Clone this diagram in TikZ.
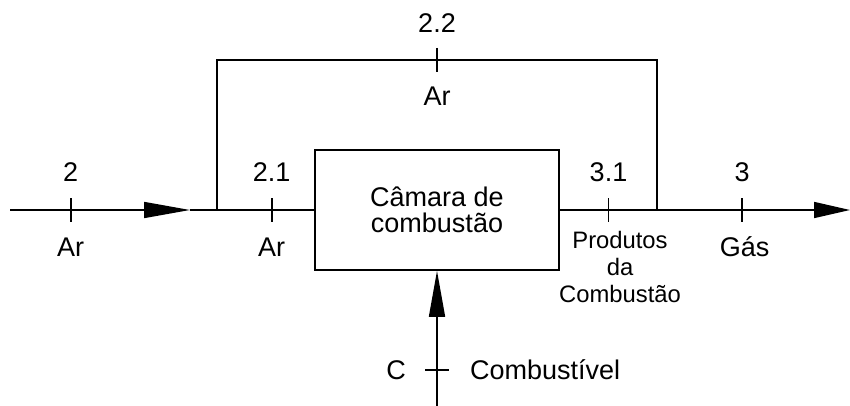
\documentclass[tikz,border=0pt]{standalone}
\usepackage{fontspec}
\setmainfont{Liberation Sans}
\usetikzlibrary{arrows.meta}
\begin{document}
\begin{tikzpicture}[x=10pt, y=-10pt, line width=1.6pt,
  every node/.style={font=\fontsize{27}{26.5}\selectfont, inner sep=0pt},
  small/.style={font=\fontsize{23.8}{27}\selectfont},
  flow/.style={-{Triangle[length=#1,width=16pt]}}, flow/.default=46pt]
  \useasboundingbox (0,0) rectangle (85,40.6);
  \coordinate (In) at (1.0,21.0); \coordinate (A) at (19.0,21.0);
  \coordinate (J) at (21.7,21.0); \coordinate (K) at (65.7,21.0);
  \coordinate (JT) at (21.7,6.0); \coordinate (KT) at (65.7,6.0);
  \coordinate (Out) at (85.0,21.0); \coordinate (F) at (43.7,40.6);
  \coordinate (P2) at (7.07,21.0); \coordinate (P21) at (27.17,21.0);
  \coordinate (P22) at (43.7,6.0); \coordinate (P31) at (60.85,21.0);
  \coordinate (P3) at (74.17,21.0); \coordinate (PC) at (43.7,37.0);
  \node[draw, minimum width=244pt, minimum height=120pt, align=center] (Cam) at (43.7,21.0) {Câmara de\\combustão};
  \draw[flow] (In)--(A);
  \draw (A)--(Cam.west) (J)--(JT)--(KT)--(K);
  \draw[flow=36pt] (Cam.east)--(Out);
  \draw[flow] (F)--(Cam.south);
  \foreach \p in {P2,P21,P22,P31,P3}
    \draw ([yshift=12pt]\p)--([yshift=-12pt]\p);
  \draw ([xshift=-12pt]PC)--([xshift=12pt]PC);
  \node[anchor=base] (l2) at (7.07,18.2) {2};
  \node[anchor=base] (a2) at (7.07,25.6) {Ar};
  \node[anchor=base] (l21) at (27.17,18.2) {2.1};
  \node[anchor=base] (a21) at (27.17,25.6) {Ar};
  \node[anchor=base] (l22) at (43.7,3.3) {2.2};
  \node[anchor=base] (a22) at (43.7,10.55) {Ar};
  \node[anchor=base] (l31) at (60.85,18.2) {3.1};
  \node[small, anchor=north, align=center] (a31) at (62.0,23.0) {Produtos\\da\\Combustão};
  \node[anchor=base] (l3) at (74.2,18.2) {3};
  \node[anchor=base] (a3) at (74.45,25.6) {Gás};
  \node[anchor=base east] (lc) at (40.67,37.9) {C};
  \node[anchor=base west] (ac) at (46.93,37.9) {Combustível};
\end{tikzpicture}
\end{document}
